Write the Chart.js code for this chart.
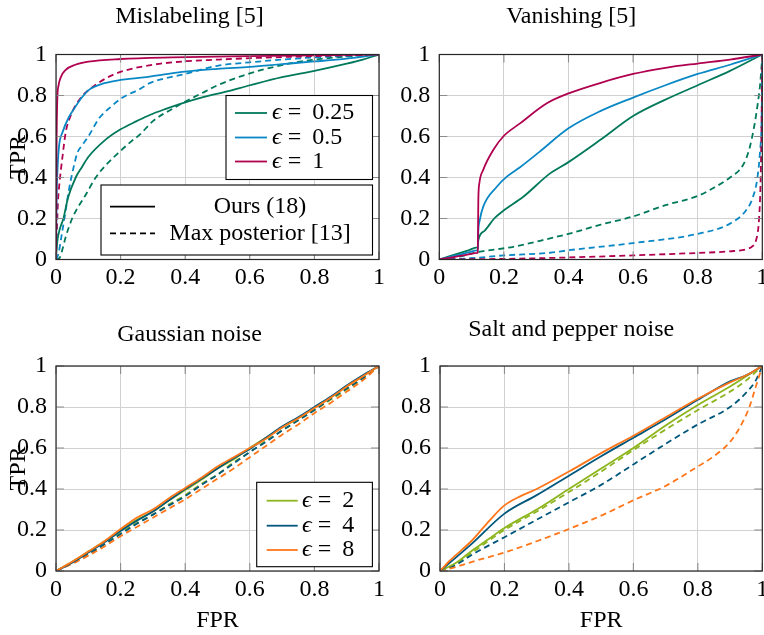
<!DOCTYPE html>
<html><head><meta charset="utf-8">
<script src="https://cdn.jsdelivr.net/npm/chart.js@4.4.1/dist/chart.umd.min.js"></script>
<style>
html,body{margin:0;padding:0;background:#fff;overflow:hidden;width:764px;height:635px;position:relative}
canvas{position:absolute}
</style></head><body>
<canvas id="c1" width="390" height="305" style="left:0;top:0"></canvas>
<canvas id="c2" width="400" height="305" style="left:380px;top:0"></canvas>
<canvas id="c3" width="390" height="325" style="left:0;top:310px"></canvas>
<canvas id="c4" width="400" height="325" style="left:380px;top:310px"></canvas>
<script>
// ---- ticks ----
const tickValues = [0, 0.2, 0.4, 0.6, 0.8, 1];
const tickLabels = ['0', '0.2', '0.4', '0.6', '0.8', '1'];

// ---- titles / labels ----
const panelTitles = ['Mislabeling [5]', 'Vanishing [5]', 'Gaussian noise', 'Salt and pepper noise'];
const xAxisLabel = 'FPR';
const yAxisLabel = 'TPR';
const epsTop = ['0.25', '0.5', '1'];
const epsBottom = ['2', '4', '8'];
const methodLabels = ['Ours (18)', 'Max posterior [13]'];

// ---- Mislabeling [5] : [FPR, TPR] ----
const misOurs025 = [[0,0],[0.002,0.05],[0.005,0.1],[0.012,0.15],[0.023,0.2],[0.037,0.3],[0.061,0.4],[0.08,0.45],[0.1,0.5],[0.15,0.58],[0.2,0.635],[0.25,0.675],[0.29,0.705],[0.34,0.735],[0.39,0.762],[0.45,0.79],[0.53,0.82],[0.6,0.85],[0.7,0.89],[0.76,0.908],[0.8,0.92],[0.9,0.955],[0.95,0.975],[1,1]];
const misOurs05 = [[0,0],[0.001,0.15],[0.002,0.3],[0.005,0.45],[0.01,0.56],[0.02,0.62],[0.04,0.695],[0.06,0.745],[0.08,0.79],[0.1,0.825],[0.15,0.86],[0.2,0.876],[0.25,0.885],[0.29,0.892],[0.39,0.915],[0.5,0.93],[0.6,0.94],[0.7,0.953],[0.8,0.966],[0.9,0.98],[1,1]];
const misOurs1 = [[0,0],[0.001,0.35],[0.002,0.6],[0.004,0.78],[0.008,0.85],[0.015,0.89],[0.03,0.925],[0.06,0.95],[0.1,0.965],[0.2,0.978],[0.36,0.986],[0.6,0.992],[0.8,0.996],[1,1]];
const misPost025 = [[0,0],[0.012,0.01],[0.02,0.05],[0.03,0.11],[0.05,0.2],[0.07,0.26],[0.09,0.31],[0.123,0.4],[0.16,0.47],[0.2,0.53],[0.232,0.575],[0.26,0.61],[0.3,0.675],[0.36,0.735],[0.39,0.762],[0.45,0.81],[0.5,0.85],[0.6,0.908],[0.72,0.955],[0.8,0.975],[0.9,0.99],[1,1]];
const misPost05 = [[0,0],[0.008,0.03],[0.015,0.095],[0.03,0.24],[0.04,0.34],[0.056,0.46],[0.066,0.52],[0.08,0.555],[0.1,0.6],[0.134,0.69],[0.17,0.745],[0.206,0.79],[0.258,0.83],[0.29,0.86],[0.4,0.905],[0.5,0.945],[0.6,0.962],[0.7,0.975],[0.8,0.986],[0.9,0.994],[1,1]];
const misPost1 = [[0,0],[0.003,0.15],[0.006,0.28],[0.01,0.36],[0.02,0.5],[0.03,0.62],[0.045,0.7],[0.06,0.75],[0.08,0.795],[0.1,0.825],[0.15,0.88],[0.2,0.915],[0.3,0.95],[0.4,0.967],[0.5,0.975],[0.6,0.982],[0.8,0.992],[1,1]];

// ---- Vanishing [5] ----
const vanOurs025 = [[0,0],[0.03,0.015],[0.06,0.03],[0.09,0.045],[0.117,0.059],[0.119,0.06],[0.121,0.095],[0.14,0.14],[0.17,0.2],[0.2,0.24],[0.26,0.306],[0.343,0.42],[0.4,0.475],[0.5,0.585],[0.6,0.7],[0.7,0.78],[0.8,0.85],[0.9,0.92],[1,1]];
const vanOurs05 = [[0,0],[0.03,0.012],[0.06,0.023],[0.09,0.035],[0.117,0.045],[0.119,0.046],[0.121,0.144],[0.125,0.19],[0.136,0.258],[0.178,0.355],[0.209,0.404],[0.25,0.45],[0.31,0.525],[0.4,0.64],[0.5,0.725],[0.6,0.79],[0.7,0.85],[0.8,0.905],[0.9,0.95],[1,1]];
const vanOurs1 = [[0,0],[0.03,0.008],[0.06,0.016],[0.09,0.025],[0.117,0.032],[0.119,0.033],[0.121,0.3],[0.124,0.372],[0.136,0.437],[0.167,0.534],[0.198,0.6],[0.25,0.664],[0.333,0.762],[0.4,0.81],[0.5,0.862],[0.6,0.905],[0.7,0.935],[0.8,0.956],[0.9,0.975],[1,1]];
const vanPost025 = [[0,0],[0.05,0.01],[0.126,0.038],[0.229,0.062],[0.343,0.103],[0.4,0.125],[0.5,0.17],[0.6,0.21],[0.7,0.265],[0.8,0.31],[0.85,0.35],[0.9,0.4],[0.94,0.46],[0.96,0.54],[0.975,0.65],[0.985,0.75],[0.993,0.85],[0.998,0.95],[1,1]];
const vanPost05 = [[0,0],[0.095,0.006],[0.2,0.02],[0.343,0.033],[0.4,0.045],[0.6,0.08],[0.8,0.125],[0.9,0.175],[0.95,0.24],[0.97,0.3],[0.985,0.4],[0.993,0.53],[0.998,0.7],[1,1]];
const vanPost1 = [[0,0],[0.2,0.003],[0.4,0.01],[0.6,0.02],[0.8,0.032],[0.9,0.04],[0.95,0.05],[0.97,0.065],[0.98,0.09],[0.99,0.2],[0.995,0.4],[0.998,0.7],[1,1]];

// ---- Gaussian noise ----
const gFpr = [0,0.05,0.1,0.15,0.2,0.25,0.3,0.35,0.4,0.45,0.5,0.55,0.6,0.65,0.7,0.75,0.8,0.85,0.9,0.95,1];
const gOurs2 = [0,0.045,0.095,0.145,0.2,0.25,0.29,0.345,0.395,0.445,0.5,0.545,0.6,0.65,0.7,0.745,0.795,0.845,0.9,0.95,1];
const gOurs4 = [0,0.04,0.09,0.14,0.195,0.245,0.29,0.345,0.4,0.45,0.5,0.55,0.595,0.65,0.705,0.75,0.8,0.85,0.905,0.955,1];
const gOurs8 = [0,0.045,0.095,0.145,0.205,0.26,0.3,0.355,0.405,0.455,0.51,0.555,0.6,0.645,0.7,0.745,0.795,0.845,0.9,0.95,1];
const gPost2 = [0,0.04,0.085,0.13,0.185,0.235,0.275,0.325,0.37,0.425,0.47,0.53,0.58,0.635,0.685,0.735,0.785,0.835,0.885,0.94,1];
const gPost4 = [0,0.04,0.08,0.13,0.18,0.23,0.275,0.32,0.365,0.42,0.47,0.525,0.58,0.63,0.685,0.735,0.785,0.84,0.89,0.94,1];
const gPost8 = [0,0.035,0.075,0.12,0.17,0.215,0.26,0.305,0.35,0.4,0.45,0.5,0.555,0.61,0.665,0.715,0.77,0.82,0.875,0.93,1];

// ---- Salt and pepper noise ----
const spOurs2 = [[0,0],[0.05,0.04],[0.1,0.1],[0.15,0.155],[0.2,0.21],[0.3,0.3],[0.4,0.4],[0.5,0.5],[0.6,0.6],[0.7,0.71],[0.8,0.81],[0.9,0.9],[0.95,0.95],[1,1]];
const spOurs4 = [[0,0],[0.03,0.04],[0.1,0.135],[0.2,0.28],[0.3,0.37],[0.4,0.465],[0.5,0.56],[0.6,0.65],[0.7,0.74],[0.8,0.835],[0.9,0.925],[0.95,0.955],[1,1]];
const spOurs8 = [[0,0],[0.03,0.05],[0.1,0.15],[0.15,0.24],[0.2,0.32],[0.25,0.365],[0.3,0.4],[0.4,0.485],[0.5,0.575],[0.6,0.66],[0.7,0.75],[0.8,0.84],[0.9,0.92],[0.95,0.955],[1,1]];
const spPost2 = [[0,0],[0.05,0.035],[0.1,0.09],[0.2,0.2],[0.3,0.29],[0.4,0.385],[0.5,0.485],[0.6,0.59],[0.7,0.69],[0.8,0.785],[0.9,0.875],[0.95,0.93],[1,1]];
const spPost4 = [[0,0],[0.05,0.03],[0.1,0.08],[0.2,0.165],[0.3,0.25],[0.4,0.335],[0.5,0.42],[0.6,0.52],[0.7,0.62],[0.8,0.715],[0.9,0.8],[0.95,0.87],[0.98,0.93],[1,1]];
const spPost8 = [[0,0],[0.05,0.02],[0.1,0.045],[0.2,0.09],[0.3,0.145],[0.4,0.205],[0.5,0.27],[0.6,0.345],[0.7,0.415],[0.8,0.51],[0.85,0.56],[0.9,0.63],[0.93,0.7],[0.96,0.8],[0.98,0.9],[1,1]];

// ---- styles ----
const FONT = "'Liberation Serif', 'DejaVu Serif', serif";
const FS = 24;
const C = { g: '#00795b', b: '#0a88c6', r: '#b0004f', y: '#8db51e', d: '#00577c', o: '#ff761a' };
const DASH = [6, 4];
Chart.defaults.font.family = FONT;
Chart.defaults.font.size = FS;
Chart.defaults.color = '#000';

function pairs(arr) { return arr.map(p => ({ x: p[0], y: p[1] })); }
function zip(xs, ys) { return xs.map((x, i) => ({ x: x, y: ys[i] })); }
function ds(data, color, dashed) {
  return { data: data, borderColor: color, borderWidth: 1.8, borderDash: dashed ? DASH : [],
           pointRadius: 0, showLine: true, fill: false, cubicInterpolationMode: 'monotone' };
}

const framePlugin = {
  id: 'frame',
  afterDatasetsDraw(chart) {
    const { ctx, chartArea: a, scales } = chart;
    ctx.save();
    ctx.strokeStyle = '#8c8c8c'; ctx.lineWidth = 1.1;
    const L = 8;
    tickValues.forEach(v => {
      const px = scales.x.getPixelForValue(v), py = scales.y.getPixelForValue(v);
      ctx.beginPath();
      ctx.moveTo(px, a.bottom); ctx.lineTo(px, a.bottom - L);
      ctx.moveTo(px, a.top); ctx.lineTo(px, a.top + L);
      ctx.moveTo(a.left, py); ctx.lineTo(a.left + L, py);
      ctx.moveTo(a.right, py); ctx.lineTo(a.right - L, py);
      ctx.stroke();
    });
    ctx.strokeStyle = '#262626'; ctx.lineWidth = 1.2;
    ctx.strokeRect(a.left, a.top, a.right - a.left, a.bottom - a.top);
    ctx.restore();
  }
};

function drawEps(ctx, x, y, val) {
  ctx.textBaseline = 'middle'; ctx.textAlign = 'left'; ctx.fillStyle = '#000';
  ctx.font = 'italic ' + FS + 'px ' + FONT;
  ctx.fillText('\u03F5', x, y);
  let cx = x + ctx.measureText('\u03F5').width + 6;
  ctx.font = FS + 'px ' + FONT;
  ctx.fillText('=', cx, y);
  cx += ctx.measureText('=').width + 11;
  ctx.fillText(val, cx, y);
}

function legendPlugin(boxes) {
  return {
    id: 'boxLegend',
    afterDraw(chart) {
      const ctx = chart.ctx;
      ctx.save();
      boxes.forEach(b => {
        ctx.fillStyle = '#fff';
        ctx.fillRect(b.x, b.y, b.w, b.h);
        ctx.strokeStyle = '#000'; ctx.lineWidth = 1.1; ctx.setLineDash([]);
        ctx.strokeRect(b.x, b.y, b.w, b.h);
        b.items.forEach((it, i) => {
          const yy = b.rowY[i];
          ctx.strokeStyle = it.color; ctx.lineWidth = 1.8;
          ctx.setLineDash(it.dashed ? DASH : []);
          ctx.beginPath(); ctx.moveTo(b.lineX0, yy); ctx.lineTo(b.lineX1, yy); ctx.stroke();
          ctx.setLineDash([]);
          if (it.eps !== undefined) {
            drawEps(ctx, b.textX, yy, it.eps);
          } else {
            ctx.font = FS + 'px ' + FONT; ctx.fillStyle = '#000';
            ctx.textBaseline = 'middle'; ctx.textAlign = 'center';
            ctx.fillText(it.text, b.textX, yy);
          }
        });
      });
      ctx.restore();
    }
  };
}

function axis(isX, size, titleText, titlePad) {
  return {
    type: 'linear', min: 0, max: 1,
    afterBuildTicks: s => { s.ticks = tickValues.map(v => ({ value: v })); },
    ticks: { callback: (v, i) => tickLabels[i], padding: isX ? 4 : 9, maxRotation: 0, autoSkip: false, color: '#000' },
    grid: { color: '#d2d2d2', lineWidth: 1, drawTicks: false },
    border: { display: false },
    title: { display: !!titleText, text: titleText || '', color: '#000', font: { size: FS }, padding: titlePad || 0 },
    afterFit: s => { if (isX) s.height = size; else s.width = size; }
  };
}

function make(id, p) {
  return new Chart(document.getElementById(id), {
    type: 'scatter',
    data: { datasets: p.datasets },
    options: {
      responsive: false, animation: false, devicePixelRatio: 1,
      layout: { padding: { left: 0, right: p.padRight, top: 0, bottom: 0 } },
      plugins: {
        legend: { display: false }, tooltip: { enabled: false },
        title: { display: true, text: p.title, color: '#000', font: { size: FS, weight: 'normal' },
                 padding: { top: p.tTop, bottom: p.tBottom } }
      },
      scales: {
        x: axis(true, p.xH, p.xTitle, { top: 0, bottom: 0 }),
        y: axis(false, p.yW, p.yTitle, { top: 4, bottom: 0 })
      }
    },
    plugins: [framePlugin].concat(p.legends ? [legendPlugin(p.legends)] : [])
  });
}

// Mislabeling
make('c1', {
  title: panelTitles[0], tTop: 2.1, tBottom: 23.6, padRight: 11, xH: 45.5, yW: 56, yTitle: yAxisLabel,
  datasets: [ds(pairs(misOurs1), C.r), ds(pairs(misOurs05), C.b), ds(pairs(misOurs025), C.g),
             ds(pairs(misPost1), C.r, true), ds(pairs(misPost05), C.b, true), ds(pairs(misPost025), C.g, true)],
  legends: [
    { x: 226, y: 95.5, w: 146.5, h: 84, lineX0: 235, lineX1: 267, textX: 272, rowY: [113, 137.5, 161.5],
      items: [{ color: C.g, eps: epsTop[0] }, { color: C.b, eps: epsTop[1] }, { color: C.r, eps: epsTop[2] }] },
    { x: 101, y: 185, w: 271.5, h: 70, lineX0: 110, lineX1: 155, textX: 260, rowY: [206.7, 233.3],
      items: [{ color: '#000', text: methodLabels[0] }, { color: '#000', dashed: true, text: methodLabels[1] }] }
  ]
});
// Vanishing
make('c2', {
  title: panelTitles[1], tTop: 2.1, tBottom: 23.6, padRight: 17.7, xH: 45.5, yW: 59.3,
  datasets: [ds(pairs(vanOurs1), C.r), ds(pairs(vanOurs05), C.b), ds(pairs(vanOurs025), C.g),
             ds(pairs(vanPost1), C.r, true), ds(pairs(vanPost05), C.b, true), ds(pairs(vanPost025), C.g, true)]
});
// Gaussian noise
make('c3', {
  title: panelTitles[2], tTop: 10.6, tBottom: 16.6, padRight: 11, xH: 64, yW: 56, yTitle: yAxisLabel, xTitle: xAxisLabel,
  datasets: [ds(zip(gFpr, gOurs8), C.o), ds(zip(gFpr, gOurs4), C.d), ds(zip(gFpr, gOurs2), C.y),
             ds(zip(gFpr, gPost8), C.o, true), ds(zip(gFpr, gPost4), C.d, true), ds(zip(gFpr, gPost2), C.y, true)],
  legends: [
    { x: 256.7, y: 172.3, w: 115.7, h: 84.4, lineX0: 266.7, lineX1: 297.7, textX: 302, rowY: [190.7, 215.7, 240],
      items: [{ color: C.y, eps: epsBottom[0] }, { color: C.d, eps: epsBottom[1] }, { color: C.o, eps: epsBottom[2] }] }
  ]
});
// Salt and pepper noise
make('c4', {
  title: panelTitles[3], tTop: 5.6, tBottom: 21.6, padRight: 17.7, xH: 64, yW: 60, xTitle: xAxisLabel,
  datasets: [ds(pairs(spOurs8), C.o), ds(pairs(spOurs4), C.d), ds(pairs(spOurs2), C.y),
             ds(pairs(spPost8), C.o, true), ds(pairs(spPost4), C.d, true), ds(pairs(spPost2), C.y, true)]
});
</script>
</body></html>
